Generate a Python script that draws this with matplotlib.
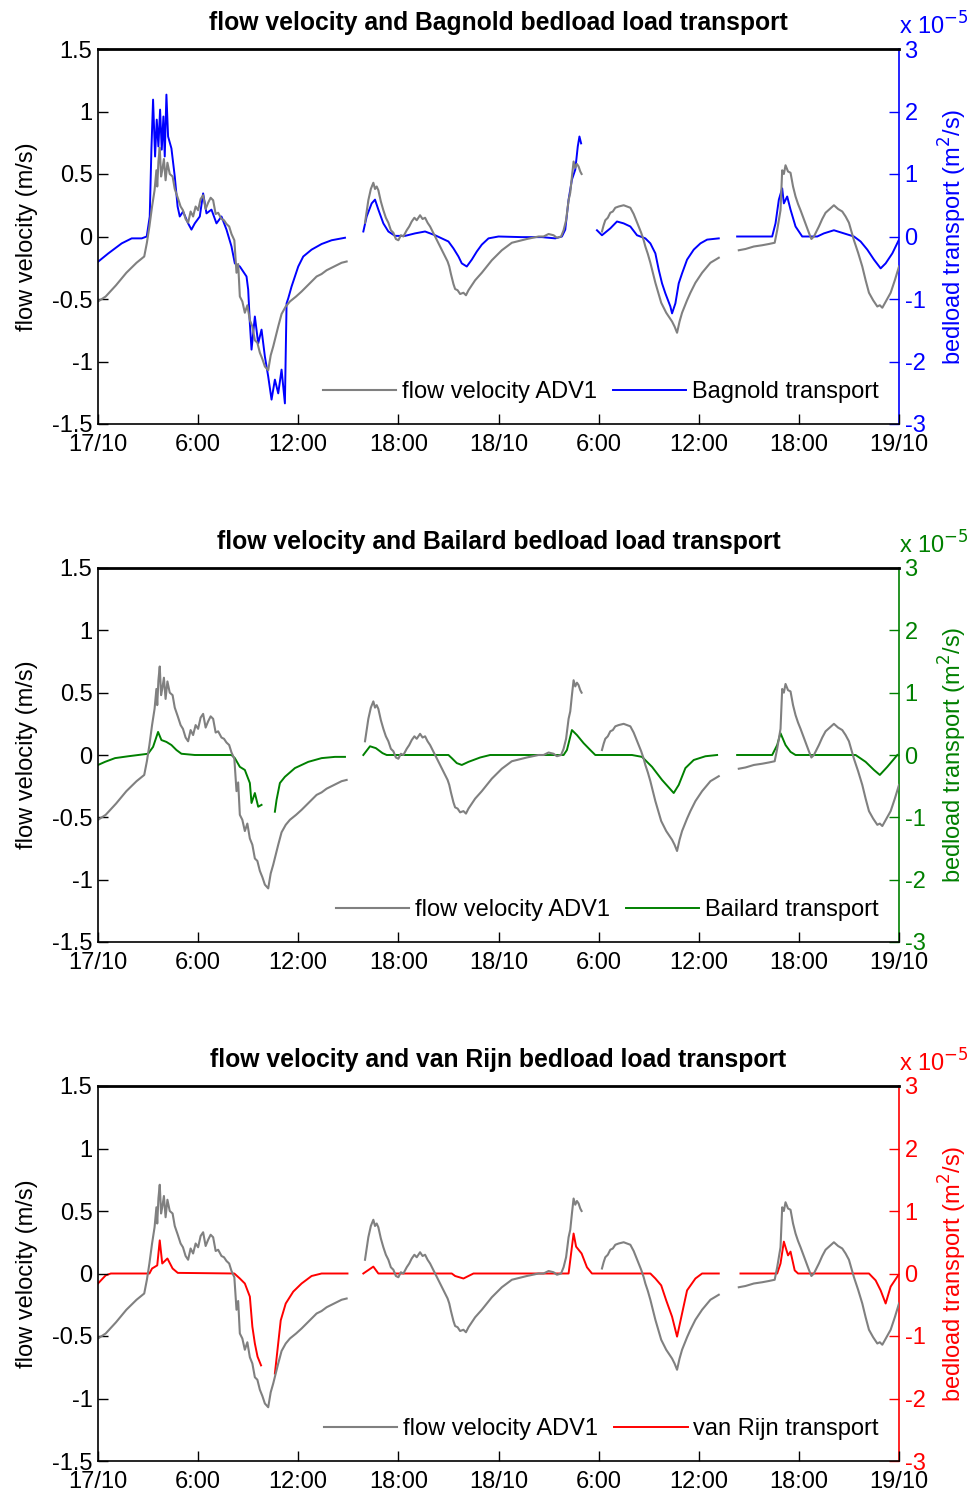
import numpy as np
import matplotlib
matplotlib.use("Agg")
import matplotlib.pyplot as plt

nan = np.nan

# ---- time axis (hours since 17/10 00:00) ----
xtick_hours = [0, 6, 12, 18, 24, 30, 36, 42, 48]
xtick_labels = ["17/10", "6:00", "12:00", "18:00", "18/10", "6:00", "12:00", "18:00", "19/10"]

# ---- flow velocity ADV1 (m/s); nan marks data gaps ----
vel_time = [
    0.0, 0.46, 1.08, 1.7, 2.31, 2.77, 2.93, 3.08, 3.24, 3.39, 3.5, 3.55, 3.62, 3.7, 3.78, 3.85, 3.95,
    4.05, 4.16, 4.3, 4.47, 4.6, 4.78, 4.95, 5.09, 5.25, 5.4, 5.55, 5.7, 5.85, 6.0, 6.15, 6.3, 6.45,
    6.6, 6.75, 6.9, 7.05, 7.2, 7.4, 7.55, 7.7, 7.86, 8.0, 8.17, 8.3, 8.4, 8.5, 8.65, 8.8, 8.95, 9.1,
    9.25, 9.4, 9.55, 9.7, 9.85, 10.0, 10.2, 10.35, 10.5, 10.65, 10.8, 11.0, 11.25, 11.5, 11.87, 12.2,
    12.5, 12.8, 13.1, 13.4, 13.7, 14.0, 14.3, 14.6, 14.9, 15.4,
    16.0, 16.2, 16.35, 16.5, 16.6, 16.7, 16.8, 16.95, 17.1, 17.25, 17.4, 17.55, 17.7, 17.85, 18.0,
    18.15, 18.3, 18.5, 18.65, 18.8, 18.96, 19.1, 19.3, 19.45, 19.6, 19.75, 19.9, 20.05, 20.2, 20.35,
    20.5, 20.65, 20.8, 20.95, 21.05, 21.15, 21.3, 21.4, 21.55, 21.7, 21.9, 22.05, 22.2, 22.35, 22.6,
    22.8, 23.0, 23.3, 23.6, 23.9, 24.2, 24.5, 24.8, 25.1, 25.4, 25.7, 26.05, 26.4, 26.7, 27.0, 27.3,
    27.5, 27.75, 27.9, 28.05, 28.2, 28.3, 28.4, 28.5, 28.6, 28.7, 28.8, 28.9, 28.98, 29.5,
    30.2, 30.3, 30.4, 30.55, 30.7, 30.85, 31.0, 31.2, 31.5, 31.7, 31.9, 32.1, 32.25, 32.4, 32.55,
    32.7, 32.8, 32.95, 33.1, 33.25, 33.4, 33.6, 33.75, 33.9, 34.05, 34.2, 34.4, 34.55, 34.7, 34.85,
    35.0, 35.15, 35.3, 35.5, 35.8, 36.0, 36.2, 36.45, 36.7, 36.95, 37.2, 37.8,
    38.4, 38.8, 39.3, 39.8, 40.2, 40.55, 40.7, 40.9, 41.0, 41.1, 41.2, 41.35, 41.5, 41.65, 41.8,
    41.95, 42.1, 42.35, 42.6, 42.75, 42.9, 43.05, 43.2, 43.4, 43.6, 43.85, 44.1, 44.35, 44.6, 44.8,
    45.0, 45.15, 45.3, 45.55, 45.8, 46.0, 46.2, 46.45, 46.7, 46.85, 47.0, 47.25, 47.5, 47.75, 48.0,
]
vel_values = [
    -0.52, -0.48, -0.39, -0.29, -0.21, -0.16, -0.05, 0.08, 0.24, 0.37, 0.53, 0.40, 0.60, 0.71, 0.48, 0.53, 0.62,
    0.45, 0.59, 0.50, 0.48, 0.38, 0.31, 0.24, 0.21, 0.14, 0.11, 0.20, 0.16, 0.24, 0.21, 0.30, 0.33, 0.22,
    0.27, 0.31, 0.29, 0.18, 0.19, 0.14, 0.13, 0.10, 0.08, 0.02, -0.03, -0.29, -0.22, -0.48, -0.52, -0.61, -0.55, -0.67,
    -0.72, -0.83, -0.85, -0.93, -0.98, -1.04, -1.07, -0.95, -0.88, -0.80, -0.72, -0.62, -0.56, -0.52, -0.48, -0.44,
    -0.40, -0.36, -0.32, -0.30, -0.27, -0.25, -0.23, -0.21, -0.20, nan,
    0.11, 0.29, 0.38, 0.43, 0.38, 0.40, 0.37, 0.28, 0.21, 0.15, 0.11, 0.05, 0.03, -0.02, -0.03,
    0.01, 0.00, 0.05, 0.08, 0.12, 0.15, 0.13, 0.17, 0.14, 0.15, 0.11, 0.08, 0.04, 0.00, -0.04,
    -0.08, -0.12, -0.16, -0.20, -0.24, -0.30, -0.38, -0.42, -0.43, -0.46, -0.45, -0.47, -0.43, -0.40, -0.35,
    -0.32, -0.29, -0.24, -0.19, -0.15, -0.11, -0.08, -0.05, -0.04, -0.03, -0.02, -0.01, 0.00, 0.00, 0.02, 0.01,
    -0.01, 0.00, 0.05, 0.13, 0.29, 0.35, 0.48, 0.60, 0.55, 0.58, 0.56, 0.52, 0.50, nan,
    0.04, 0.09, 0.13, 0.15, 0.19, 0.20, 0.23, 0.24, 0.25, 0.24, 0.23, 0.18, 0.13, 0.08, 0.03,
    -0.03, -0.08, -0.14, -0.21, -0.29, -0.37, -0.46, -0.53, -0.57, -0.61, -0.64, -0.68, -0.72, -0.77, -0.68,
    -0.61, -0.56, -0.51, -0.45, -0.37, -0.33, -0.29, -0.25, -0.21, -0.19, -0.17, nan,
    -0.11, -0.10, -0.08, -0.07, -0.06, -0.05, 0.05, 0.21, 0.53, 0.50, 0.57, 0.52, 0.51, 0.40, 0.32,
    0.26, 0.21, 0.12, 0.03, -0.02, 0.00, 0.04, 0.08, 0.14, 0.19, 0.22, 0.25, 0.22, 0.20, 0.16,
    0.11, 0.04, -0.03, -0.13, -0.24, -0.35, -0.45, -0.51, -0.56, -0.55, -0.57, -0.51, -0.45, -0.35, -0.24,
]

# ---- Bagnold transport (x 1e-5 m2/s) ----
bagnold_time = [
    0.02, 0.62, 1.42, 2.02, 2.62, 2.92, 3.1, 3.2, 3.3, 3.42, 3.52, 3.62, 3.72, 3.82, 3.92, 4.0, 4.1,
    4.2, 4.4, 4.6, 4.77, 4.9, 5.1, 5.4, 5.6, 5.8, 6.1, 6.3, 6.5, 6.8, 7.1, 7.4, 7.7, 8.0, 8.2, 8.5,
    8.7, 8.9, 9.0, 9.1, 9.2, 9.4, 9.6, 9.8, 10.0, 10.2, 10.4, 10.6, 10.8, 11.0, 11.2, 11.3, 11.4,
    11.6, 11.8, 12.0, 12.3, 12.8, 13.4, 14.0, 14.8, 15.4,
    15.9, 16.1, 16.4, 16.6, 16.8, 17.1, 17.4, 17.8, 18.4, 19.0, 19.6, 20.2, 20.6, 21.0, 21.3, 21.6,
    21.8, 22.1, 22.4, 22.7, 23.0, 23.4, 24.0, 25.4, 26.6, 27.4, 27.8, 28.0, 28.2, 28.4, 28.6, 28.75,
    28.85, 28.95, 29.4,
    29.9, 30.2, 30.7, 31.1, 31.5, 31.9, 32.3, 32.8, 33.1, 33.4, 33.6, 33.8, 34.0, 34.3, 34.4, 34.6,
    34.8, 35.0, 35.3, 35.7, 36.1, 36.5, 37.2, 37.8,
    38.3, 40.4, 40.6, 40.8, 41.0, 41.1, 41.3, 41.5, 41.8, 42.2, 43.1, 43.5, 44.1, 44.7, 45.3, 45.7,
    46.1, 46.5, 46.9, 47.2, 47.6, 48.0,
]
bagnold_values = [
    -0.40, -0.27, -0.11, -0.03, -0.03, 0.00, 0.32, 1.39, 2.19, 1.28, 1.87, 1.44, 2.03, 1.39, 1.92, 1.28, 2.27,
    1.60, 1.41, 0.96, 0.48, 0.32, 0.40, 0.21, 0.11, 0.21, 0.32, 0.69, 0.37, 0.43, 0.21, 0.32, 0.11, -0.16, -0.43, -0.48,
    -0.56, -0.64, -0.85, -1.39, -1.81, -1.28, -1.71, -1.49, -1.92, -2.24, -2.61, -2.29, -2.51, -2.13, -2.67, -1.07, -0.99,
    -0.80, -0.64, -0.48, -0.32, -0.21, -0.12, -0.06, -0.02, nan,
    0.08, 0.32, 0.53, 0.59, 0.43, 0.21, 0.08, 0.01, 0.01, 0.05, 0.08, 0.02, -0.03, -0.08, -0.19, -0.32,
    -0.43, -0.48, -0.37, -0.24, -0.13, -0.03, 0.00, -0.01, -0.01, -0.03, 0.00, 0.11, 0.59, 0.91, 1.07, 1.44,
    1.60, 1.49, nan,
    0.10, 0.02, 0.13, 0.24, 0.21, 0.16, 0.02, -0.03, -0.11, -0.27, -0.53, -0.75, -0.91, -1.12, -1.23, -1.07,
    -0.75, -0.59, -0.37, -0.21, -0.11, -0.05, -0.03, nan,
    0.00, 0.00, 0.21, 0.59, 0.77, 0.53, 0.64, 0.43, 0.16, 0.00, 0.00, 0.05, 0.10, 0.05, 0.00, -0.08,
    -0.21, -0.37, -0.51, -0.43, -0.27, -0.05,
]

# ---- Bailard transport (x 1e-5 m2/s) ----
bailard_time = [
    0.0, 0.42, 1.02, 1.82, 3.0, 3.3, 3.6, 3.8, 4.1, 4.4, 4.7, 5.0, 5.8, 8.0, 8.2, 8.5, 8.8, 9.1, 9.2,
    9.4, 9.6, 9.8, 10.2,
    10.6, 10.7, 10.9, 11.2, 11.8, 12.6, 13.4, 14.2, 14.8, 15.4,
    15.9, 16.3, 16.65, 17.05, 17.3, 21.0, 21.2, 21.5, 21.8, 22.2, 22.9, 23.5, 27.9, 28.1, 28.4, 28.7,
    29.1, 29.5, 29.8, 32.0, 32.6, 33.2, 33.8, 34.5, 34.8, 35.2, 35.7, 36.4, 37.1, 37.7,
    38.3, 40.4, 40.7, 40.9, 41.2, 41.5, 41.8, 45.4, 46.0, 46.5, 46.85, 47.3, 47.9,
]
bailard_values = [
    -0.16, -0.11, -0.05, -0.02, 0.02, 0.13, 0.37, 0.24, 0.21, 0.16, 0.08, 0.02, 0.00, 0.00, -0.05, -0.19, -0.24, -0.45, -0.77,
    -0.61, -0.83, -0.80, nan,
    -0.91, -0.72, -0.45, -0.35, -0.21, -0.11, -0.05, -0.03, -0.03, nan,
    0.00, 0.14, 0.11, 0.03, 0.00, 0.00, -0.05, -0.13, -0.16, -0.11, -0.04, 0.00, 0.00, 0.08, 0.40, 0.32,
    0.19, 0.08, 0.00, 0.00, -0.03, -0.19, -0.40, -0.61, -0.48, -0.21, -0.08, -0.02, 0.00, nan,
    0.00, 0.00, 0.16, 0.35, 0.16, 0.05, 0.00, 0.00, -0.11, -0.24, -0.32, -0.19, 0.00,
]

# ---- van Rijn transport (x 1e-5 m2/s) ----
vanrijn_time = [
    0.0, 0.46, 0.77, 3.08, 3.24, 3.55, 3.7, 3.85, 4.16, 4.47, 4.78, 8.17, 8.5, 8.8, 9.1, 9.25, 9.4,
    9.56, 9.77, 10.2,
    10.6, 10.95, 11.25, 11.7, 12.2, 12.8, 13.4, 14.95, 15.4,
    15.9, 16.5, 16.8, 21.2, 21.4, 21.9, 22.5, 28.2, 28.35, 28.5, 28.65, 28.98, 29.3, 29.6, 33.1, 33.4,
    33.75, 34.05, 34.4, 34.7, 35.0, 35.3, 35.8, 36.2, 37.2, 37.8,
    38.5, 40.7, 40.9, 41.1, 41.35, 41.5, 41.75, 41.95, 46.2, 46.6, 46.9, 47.2, 47.5, 47.95,
]
vanrijn_values = [
    -0.16, -0.03, 0.00, 0.00, 0.08, 0.13, 0.53, 0.16, 0.24, 0.08, 0.01, 0.00, -0.08, -0.16, -0.37, -0.85, -1.12,
    -1.33, -1.47, nan,
    -1.60, -0.75, -0.48, -0.29, -0.16, -0.04, 0.00, 0.00, nan,
    0.00, 0.11, 0.00, 0.00, -0.04, -0.08, 0.00, 0.00, 0.32, 0.64, 0.43, 0.32, 0.10, 0.00, 0.00, -0.08,
    -0.19, -0.43, -0.69, -1.01, -0.64, -0.27, -0.08, 0.00, 0.00, nan,
    0.00, 0.00, 0.16, 0.51, 0.29, 0.35, 0.05, 0.00, 0.00, -0.11, -0.27, -0.48, -0.21, -0.03,
]

panels = [
    ("flow velocity and Bagnold bedload load transport", "Bagnold transport", bagnold_time, bagnold_values, (0, 0, 1)),
    ("flow velocity and Bailard bedload load transport", "Bailard transport", bailard_time, bailard_values, (0, 0.5, 0)),
    ("flow velocity and van Rijn bedload load transport", "van Rijn transport", vanrijn_time, vanrijn_values, (1, 0, 0)),
]

FONT = ["Liberation Sans", "DejaVu Sans"]
FS = 17
plt.rcParams["font.family"] = FONT

fig = plt.figure(figsize=(9.67, 14.97), dpi=100)
W, H = 967.0, 1497.0
left_px, right_px = 98, 899
tops = [49, 568, 1086]
bottoms = [424, 942, 1461]

for i, (title, tlabel, tt, tv, col) in enumerate(panels):
    rect = [left_px / W, 1 - bottoms[i] / H, (right_px - left_px) / W, (bottoms[i] - tops[i]) / H]
    ax = fig.add_axes(rect)
    ax2 = ax.twinx()
    l1, = ax.plot(vel_time, vel_values, color=(0.5, 0.5, 0.5), lw=1.5, label="flow velocity ADV1")
    l2, = ax2.plot(tt, tv, color=col, lw=1.4, label=tlabel)
    ax.set_xlim(0, 48)
    ax.set_ylim(-1.5, 1.5)
    ax2.set_ylim(-3, 3)
    ax.set_xticks(xtick_hours)
    ax.set_xticklabels(xtick_labels)
    ax.set_yticks([-1.5, -1, -0.5, 0, 0.5, 1, 1.5])
    ax.set_yticklabels(["-1.5", "-1", "-0.5", "0", "0.5", "1", "1.5"])
    ax2.set_yticks([-3, -2, -1, 0, 1, 2, 3])
    ax2.set_yticklabels(["-3", "-2", "-1", "0", "1", "2", "3"])
    ax.tick_params(axis="both", direction="in", length=7, width=1, labelsize=FS, pad=4)
    ax.tick_params(axis="x", pad=7)
    ax2.tick_params(axis="y", direction="in", length=7, width=1, labelsize=FS, pad=4,
                    colors=col)
    for s in ["left", "top", "bottom"]:
        ax.spines[s].set_linewidth(1.2)
        ax2.spines[s].set_visible(False)
    ax.spines["right"].set_visible(False)
    ax2.spines["right"].set_color(col)
    ax2.spines["right"].set_linewidth(1.2)
    ax.spines["top"].set_linewidth(2.0)
    ax.set_title(title, fontsize=17.8, fontweight="bold", pad=14)
    ax.set_ylabel("flow velocity (m/s)", fontsize=FS, labelpad=10)
    ax2.set_ylabel("bedload transport (m$^2$/s)", fontsize=FS, color=col, labelpad=8)
    ax2.text(1.0, 1.025, r"x 10$^{-5}$", transform=ax2.transAxes, ha="left", va="bottom",
             fontsize=FS, color=col)
    leg = ax.legend([l1, l2], [l1.get_label(), l2.get_label()], loc="lower right",
                    bbox_to_anchor=(0.975, 0.055), ncol=2, frameon=False, fontsize=FS,
                    handlelength=3.1, handletextpad=0.25, columnspacing=0.7,
                    borderpad=0, borderaxespad=0)
    ax.set_zorder(ax2.get_zorder() + 1)
    ax.patch.set_visible(False)

fig.savefig("out.png", dpi=100)
